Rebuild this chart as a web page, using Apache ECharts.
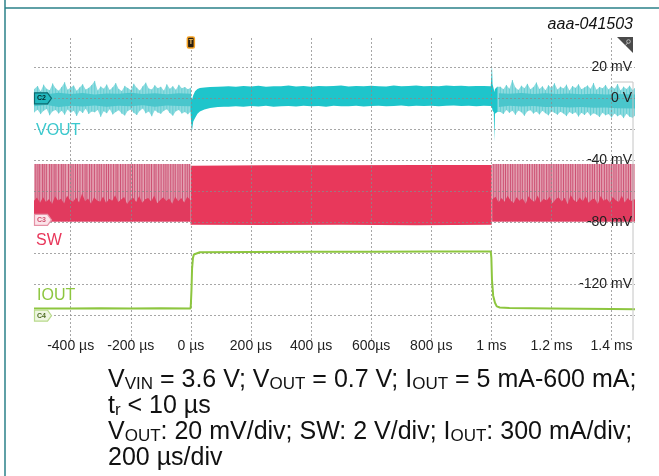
<!DOCTYPE html>
<html><head><meta charset="utf-8">
<script src="https://cdn.jsdelivr.net/npm/echarts@6/dist/echarts.min.js"></script>
<style>html,body{margin:0;padding:0;background:#fff}#c{width:659px;height:476px}</style>
</head><body><div id="c"></div>
<script>
// ---------------- DATA (screen values in VOUT scale, mV; time in µs) ----------------
const X_TICKS = [-400, -200, 0, 200, 400, 600, 800, 1000, 1200, 1400];
const X_TICK_LABELS = ['-400 µs', '-200 µs', '0 µs', '200 µs', '400 µs', '600µs', '800 µs', '1 ms', '1.2 ms', '1.4 ms'];
const Y_TICKS = [20, 0, -40, -80, -120];
const Y_TICK_LABELS = ['20 mV', '0 V', '-40 mV', '-80 mV', '-120 mV'];
const GRID_Y = [20, 0, -20, -40, -60, -80, -100, -120, -140];
const TAG_LEVELS = [0, -78.5, -140.3];

// VOUT envelope [t, high, low] – PFM before the load step
const VOUT_PRE = [[-522,5.8,-9.1],[-510,7.9,-7.4],[-500,4.6,-10.2],[-490,8.8,-8.0],[-480,6.1,-6.9],[-470,5.2,-11.0],[-460,9.6,-8.4],[-450,6.4,-7.6],[-440,4.9,-9.8],[-430,7.3,-8.1],[-420,10.4,-10.6],[-410,5.5,-7.2],[-400,6.9,-9.3],[-390,8.2,-8.0],[-380,4.8,-11.4],[-370,7.0,-7.9],[-360,9.1,-9.5],[-350,5.6,-6.8],[-340,6.7,-10.1],[-330,8.5,-8.6],[-320,11.2,-9.0],[-310,5.0,-7.5],[-300,7.6,-12.0],[-290,6.2,-8.3],[-280,8.9,-9.6],[-270,5.4,-7.0],[-260,7.1,-10.4],[-250,9.8,-8.8],[-240,6.0,-7.7],[-230,4.7,-9.9],[-220,8.0,-11.1],[-210,6.6,-8.2],[-200,5.3,-7.3],[-190,9.4,-9.4],[-180,6.8,-10.8],[-170,5.1,-8.0],[-160,7.7,-6.6],[-150,10.1,-9.7],[-140,6.3,-8.5],[-130,5.7,-11.6],[-120,8.4,-7.8],[-110,6.5,-9.2],[-100,7.4,-10.0],[-90,5.0,-8.1],[-80,9.0,-7.1],[-70,6.1,-9.5],[-60,7.8,-11.2],[-50,5.5,-8.4],[-40,8.7,-7.5],[-30,6.4,-9.8],[-20,7.2,-8.9],[-10,5.9,-10.3],[-1,6.8,-8.7]];
// VOUT during 600 mA load (CCM), incl. undershoot at 0 µs and spikes at 1 ms
const VOUT_CCM = [[-1,5.5,-9.5],[1,1.0,-16.0],[3.5,-1.0,-21.5],[5,0.0,-19.0],[8,2.0,-15.0],[14,4.5,-12.7],[22,6.0,-10.0],[30,6.6,-8.6],[45,7.0,-7.3],[64,7.3,-6.3],[90,7.5,-5.7],[110,7.6,-5.4],[125,7.8,-5.4],[150,7.4,-5.2],[175,7.9,-5.5],[200,7.6,-5.0],[225,8.1,-5.3],[250,7.5,-4.9],[275,7.8,-5.4],[300,7.7,-5.1],[325,8.2,-5.0],[350,7.6,-5.3],[375,7.9,-4.8],[400,7.5,-5.2],[425,8.0,-5.0],[450,7.7,-5.4],[475,7.9,-4.9],[500,8.3,-5.1],[525,7.6,-5.2],[550,7.9,-4.8],[575,7.7,-5.3],[600,8.1,-5.0],[625,7.8,-4.9],[650,7.6,-5.2],[675,8.2,-5.0],[700,7.8,-4.7],[725,7.9,-5.1],[750,8.3,-4.9],[775,7.7,-5.0],[800,8.0,-4.8],[825,7.8,-5.2],[850,8.2,-4.9],[875,7.9,-4.7],[900,8.1,-5.0],[925,7.7,-4.8],[950,8.0,-5.1],[975,7.9,-4.9],[998,7.8,-5.0],[1000,14.0,-5.5],[1002,21.5,-6.0],[1004,9.0,-8.0],[1008,6.0,-9.0],[1010,4.0,-28.0],[1012,6.0,-10.0],[1020,7.4,-8.8]];
// VOUT PFM after the load release
const VOUT_POST = [[1020,7.4,-8.8],[1030,7.4,-8.8],[1040,5.9,-10.1],[1050,8.6,-7.6],[1060,6.2,-9.4],[1070,11.8,-8.0],[1080,6.9,-10.7],[1090,5.4,-7.9],[1100,8.1,-9.0],[1110,6.5,-11.3],[1120,9.3,-8.4],[1130,5.8,-7.7],[1140,7.2,-9.9],[1150,10.2,-8.6],[1160,6.0,-10.4],[1170,7.7,-8.1],[1180,5.2,-9.6],[1190,8.4,-11.0],[1200,6.6,-8.3],[1210,9.7,-9.3],[1220,5.6,-10.6],[1230,7.5,-8.7],[1240,6.3,-9.8],[1250,8.8,-11.5],[1260,5.0,-8.9],[1270,7.9,-10.1],[1280,6.7,-9.0],[1290,9.0,-11.8],[1300,5.9,-9.4],[1310,7.0,-10.8],[1320,8.3,-8.8],[1330,6.1,-11.2],[1340,9.9,-9.7],[1350,5.5,-10.5],[1360,7.3,-12.1],[1370,6.4,-9.3],[1380,8.6,-11.0],[1390,5.7,-10.2],[1400,7.8,-12.4],[1410,6.2,-9.9],[1420,9.2,-11.6],[1430,5.1,-10.4],[1440,7.5,-12.8],[1450,6.0,-10.0],[1460,8.1,-11.9],[1470,5.4,-12.5],[1478,6.6,-11.2]];
// denser core of the PFM ripple
const VOUT_CORE_PRE = [[-522,3.2,-5.1],[-480,2.6,-4.4],[-440,3.5,-5.6],[-400,2.8,-4.8],[-360,3.4,-5.3],[-320,2.5,-4.6],[-280,3.1,-5.5],[-240,2.9,-4.9],[-200,3.6,-5.2],[-160,2.7,-4.5],[-120,3.3,-5.4],[-80,2.6,-4.7],[-40,3.2,-5.0],[-1,3.0,-5.2]];
const VOUT_CORE_POST = [[1025,3.3,-5.6],[1060,2.9,-4.8],[1100,3.4,-5.3],[1140,2.7,-5.0],[1180,3.2,-5.6],[1220,2.8,-5.4],[1260,3.1,-5.9],[1300,2.6,-5.7],[1340,3.0,-6.1],[1380,2.5,-6.0],[1420,2.8,-6.4],[1478,2.4,-6.6]];

// SW node levels and pulses
const SW_HIGH = -42.4;
const SW_BASE = -79.6;
const SW_CCM = [[-1,-43.5,-81.6],[250,-43.3,-81.8],[500,-43.2,-81.7],[750,-43.0,-81.9],[1001,-43.0,-81.7]];
const SW_PULSES_PRE = [-516,-509,-503,-494,-488,-481,-470,-463,-455,-449,-440,-431,-425,-418,-407,-399,-392,-384,-377,-369,-360,-352,-346,-337,-330,-321,-312,-305,-298,-289,-281,-274,-266,-257,-249,-243,-234,-226,-218,-209,-202,-194,-187,-178,-170,-163,-154,-146,-139,-131,-122,-116,-107,-99,-90,-83,-76,-67,-59,-52,-43,-36,-28,-19,-12,-5];
const SW_PULSES_POST = [1008,1016,1023,1031,1040,1047,1055,1064,1071,1079,1088,1096,1103,1112,1120,1127,1136,1144,1151,1160,1168,1175,1184,1192,1199,1208,1216,1223,1232,1240,1248,1256,1264,1271,1280,1288,1295,1304,1312,1320,1328,1336,1343,1352,1360,1367,1376,1384,1392,1400,1408,1415,1424,1432,1440,1448,1456,1463,1471];
const SW_RING_PRE = [[-522,-66.2],[-512,-64.1],[-502,-67.5],[-492,-63.8],[-482,-66.9],[-472,-65.0],[-462,-68.2],[-452,-63.2],[-442,-66.0],[-432,-64.8],[-422,-67.9],[-412,-62.9],[-402,-65.7],[-392,-66.8],[-382,-64.0],[-372,-67.3],[-362,-61.5],[-352,-66.4],[-342,-64.6],[-332,-68.0],[-322,-63.9],[-312,-65.9],[-302,-66.7],[-292,-63.4],[-282,-67.6],[-272,-64.9],[-262,-66.1],[-252,-62.6],[-242,-67.0],[-232,-65.3],[-222,-63.7],[-212,-68.3],[-202,-65.5],[-192,-64.2],[-182,-66.9],[-172,-63.1],[-162,-67.4],[-152,-65.1],[-142,-64.3],[-132,-66.6],[-122,-62.8],[-112,-67.7],[-102,-65.6],[-92,-63.9],[-82,-66.3],[-72,-64.7],[-62,-68.1],[-52,-63.5],[-42,-66.5],[-32,-64.4],[-22,-67.2],[-12,-63.6],[-1,-65.8]];
const SW_RING_POST = [[1003,-65.2],[1014,-63.6],[1024,-67.1],[1034,-64.4],[1044,-66.8],[1054,-62.9],[1064,-65.9],[1074,-67.6],[1084,-63.8],[1094,-66.2],[1104,-64.5],[1114,-68.0],[1124,-63.3],[1134,-65.7],[1144,-66.9],[1154,-62.7],[1164,-67.3],[1174,-64.8],[1184,-66.0],[1194,-63.5],[1204,-67.8],[1214,-65.1],[1224,-63.9],[1234,-66.6],[1244,-64.2],[1254,-68.4],[1264,-62.5],[1274,-65.6],[1284,-67.0],[1294,-64.0],[1304,-66.4],[1314,-63.2],[1324,-67.5],[1334,-65.3],[1344,-64.6],[1354,-68.2],[1364,-63.0],[1374,-66.1],[1384,-64.9],[1394,-67.4],[1404,-63.7],[1414,-65.8],[1424,-66.9],[1434,-62.8],[1444,-67.2],[1454,-64.3],[1464,-66.5],[1474,-65.0],[1478,-65.5]];

// IOUT trace
const IOUT = [[-522,-135.6],[-400,-135.7],[-300,-135.5],[-200,-135.6],[-100,-135.5],[-1,-135.6],[0,-133.0],[2,-124.0],[4,-110.0],[7,-103.0],[10,-100.8],[15,-99.9],[30,-99.4],[200,-99.2],[400,-99.1],[600,-99.0],[800,-98.9],[998,-98.9],[1000,-103.0],[1002,-117.0],[1006,-127.4],[1012,-132.0],[1018,-134.3],[1028,-135.0],[1060,-135.4],[1200,-135.6],[1300,-135.8],[1400,-136.0],[1478,-136.2]];

// ---------------- CHART ----------------
const FONT = 'Liberation Sans, Arial, sans-serif';
const X_MIN = -522, X_MAX = 1478, Y_MIN = -156, Y_MAX = 40;

function band(rows, color, z, loIdx) {
  return {
    type: 'custom', z: z, silent: true, clip: true,
    data: [[rows[0][0], rows[0][1]]],
    renderItem: function (params, api) {
      const pts = [];
      for (let i = 0; i < rows.length; i++) pts.push(api.coord([rows[i][0], rows[i][1]]));
      for (let i = rows.length - 1; i >= 0; i--) pts.push(api.coord([rows[i][0], loIdx === undefined ? rows[i][2] : loIdx]));
      return { type: 'polygon', shape: { points: pts }, style: { fill: color } };
    }
  };
}
function vlines(rows, color, width, z) {
  return {
    type: 'custom', z: z, silent: true, clip: true,
    data: rows,
    encode: { x: 0, y: [1, 2] },
    renderItem: function (params, api) {
      const a = api.coord([api.value(0), api.value(1)]);
      const b = api.coord([api.value(0), api.value(2)]);
      return { type: 'line', shape: { x1: a[0], y1: a[1], x2: b[0], y2: b[1] }, style: { stroke: color, lineWidth: width } };
    }
  };
}

const chart = echarts.init(document.getElementById('c'), null, { renderer: 'canvas' });
chart.setOption({
  animation: false,
  backgroundColor: '#ffffff',
  grid: { left: 34, right: 24, top: 36.3, bottom: 136, containLabel: false },
  xAxis: {
    type: 'value', min: X_MIN, max: X_MAX,
    axisLine: { show: false }, axisTick: { show: false }, splitLine: { show: false },
    axisLabel: {
      customValues: X_TICKS, margin: -1, color: '#222', fontSize: 14, fontFamily: FONT,
      formatter: function (v) { const i = X_TICKS.indexOf(Math.round(v)); return i >= 0 ? X_TICK_LABELS[i] : ''; }
    }
  },
  yAxis: {
    type: 'value', min: Y_MIN, max: Y_MAX, position: 'right', z: 20,
    axisLine: { show: false }, axisTick: { show: false }, splitLine: { show: false },
    axisLabel: {
      inside: true, customValues: Y_TICKS, margin: 3, color: '#222', fontSize: 14, fontFamily: FONT,
      formatter: function (v) { const i = Y_TICKS.indexOf(Math.round(v)); return i >= 0 ? Y_TICK_LABELS[i] : ''; }
    }
  },
  series: [
    // SW
    band(SW_CCM, '#e8385b', 2),
    band([[X_MIN, SW_HIGH, SW_BASE], [-1, SW_HIGH, SW_BASE]], '#e3a0b1', 2),
    band([[1002, SW_HIGH, SW_BASE], [X_MAX, SW_HIGH, SW_BASE]], '#e3a0b1', 2),
    vlines(SW_PULSES_PRE.map(function (t) { return [t, SW_HIGH, SW_BASE]; }), '#cd5174', 1, 3),
    vlines(SW_PULSES_POST.map(function (t) { return [t, SW_HIGH, SW_BASE]; }), '#cd5174', 1, 3),
    band(SW_RING_PRE, '#e13a5e', 4, SW_BASE),
    band(SW_RING_POST, '#e13a5e', 4, SW_BASE),
    // VOUT
    band(VOUT_PRE, '#8edbdf', 2),
    vlines(VOUT_PRE, '#5accd1', 0.8, 3),
    band(VOUT_CORE_PRE, '#4ac6cc', 4),
    band(VOUT_CCM, '#1ec5cb', 4),
    band(VOUT_POST, '#8edbdf', 2),
    vlines(VOUT_POST, '#5accd1', 0.8, 3),
    band(VOUT_CORE_POST, '#4ac6cc', 4),
    // IOUT
    {
      type: 'line', data: IOUT, showSymbol: false, z: 5, silent: true,
      lineStyle: { color: '#8dc63f', width: 2 }
    },
    // graticule
    {
      type: 'line', data: [], z: 6, silent: true,
      markLine: {
        silent: true, symbol: 'none', label: { show: false },
        lineStyle: { color: '#8a8a8a', type: [2, 2], width: 1, opacity: 0.75 },
        data: X_TICKS.map(function (v) { return { xAxis: v }; }).concat(GRID_Y.map(function (v) { return { yAxis: v }; }))
      }
    }
  ]
});

const px = function (t, v) { return chart.convertToPixel({ gridIndex: 0 }, [t, v]); };
function tag(level, fill, stroke, textColor, label) {
  const p = px(X_MIN, level);
  const x0 = p[0] + 0.5, yc = p[1];
  return {
    type: 'group', z: 30, silent: true,
    children: [
      { type: 'polygon', z: 30, shape: { points: [[x0, yc - 5.5], [x0 + 13, yc - 5.5], [x0 + 17, yc], [x0 + 13, yc + 5.5], [x0, yc + 5.5]] },
        style: { fill: fill, stroke: stroke, lineWidth: 1.2 } },
      { type: 'text', z: 31, x: x0 + 7, y: yc, style: { text: label, fill: textColor, font: 'bold 7px ' + FONT, align: 'center', verticalAlign: 'middle' } }
    ]
  };
}
const trig = px(0, Y_MAX);
chart.setOption({
  graphic: [
    { type: 'line', silent: true, shape: { x1: 5, y1: 0, x2: 5, y2: 476 }, style: { stroke: '#2a8088', lineWidth: 1.5 } },
    { type: 'line', silent: true, shape: { x1: 5, y1: 8, x2: 659, y2: 8 }, style: { stroke: '#2a8088', lineWidth: 1.5 } },
    { type: 'text', silent: true, x: 633, y: 25, style: { text: 'aaa-041503', fill: '#111', font: 'italic 16px ' + FONT, align: 'right', verticalAlign: 'middle' } },
    { type: 'rect', silent: true, z: 30, shape: { x: trig[0] - 3.5, y: 37, width: 7, height: 11, r: 1.5 }, style: { fill: '#2b2012', stroke: '#f5a020', lineWidth: 1.5 } },
    { type: 'text', silent: true, z: 31, x: trig[0], y: 42.5, style: { text: 'T', fill: '#f5c060', font: 'bold 7px ' + FONT, align: 'center', verticalAlign: 'middle' } },
    { type: 'polygon', silent: true, z: 30, shape: { points: [[617, 37], [633, 37], [633, 53]] }, style: { fill: '#4a4a4a' } },
    { type: 'circle', silent: true, z: 31, shape: { cx: 628.5, cy: 41.5, r: 1.8 }, style: { fill: 'none', stroke: '#bbb', lineWidth: 1 } },
    { type: 'line', silent: true, z: 31, shape: { x1: 627.5, y1: 43, x2: 625, y2: 46 }, style: { stroke: '#bbb', lineWidth: 1 } },
    { type: 'polyline', silent: true, z: 30, shape: { points: [[613, 82], [633, 82], [633, 340]] }, style: { stroke: '#c4c4c4', lineWidth: 1, fill: null } },
    { type: 'text', silent: true, z: 30, x: 36, y: 131, style: { text: 'VOUT', fill: '#3cc9ce', font: '16px ' + FONT, verticalAlign: 'middle' } },
    { type: 'text', silent: true, z: 30, x: 36, y: 241, style: { text: 'SW', fill: '#e8365a', font: '16px ' + FONT, verticalAlign: 'middle' } },
    { type: 'text', silent: true, z: 30, x: 37, y: 296, style: { text: 'IOUT', fill: '#8dc63f', font: '16px ' + FONT, verticalAlign: 'middle' } },
    tag(TAG_LEVELS[0], '#22b9bf', '#0a6a70', '#04282a', 'C2'),
    tag(TAG_LEVELS[1], '#fbe4ea', '#e592a6', '#d0506e', 'C3'),
    tag(TAG_LEVELS[2], '#eef6e2', '#b9da8c', '#4c6b22', 'C4'),
    {
      type: 'text', silent: true, z: 30, x: 108, y: 367,
      style: {
        text: 'V{s|VIN} = 3.6 V; V{s|OUT} = 0.7 V; I{s|OUT} = 5 mA-600 mA;\nt{s|r} < 10 µs\nV{s|OUT}: 20 mV/div; SW: 2 V/div; I{s|OUT}: 300 mA/div;\n200 µs/div',
        fill: '#111', fontSize: 25, fontFamily: FONT, lineHeight: 26, verticalAlign: 'top',
        rich: { s: { fontSize: 17, fontFamily: FONT, fill: '#111', lineHeight: 12, verticalAlign: 'bottom' } }
      }
    }
  ]
});
</script>
</body></html>
